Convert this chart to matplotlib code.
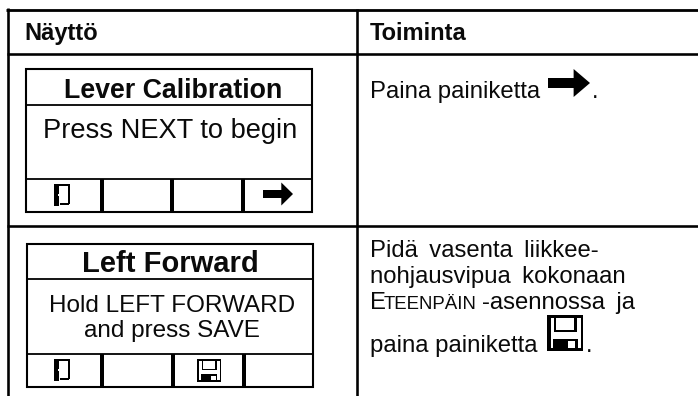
import matplotlib
matplotlib.use("Agg")
import matplotlib.pyplot as plt
from matplotlib.patches import Polygon, Rectangle

header_labels = ["Näyttö", "Toiminta"]
screen_titles = ["Lever Calibration", "Left Forward"]
screen_bodies = [["Press NEXT to begin"], ["Hold LEFT FORWARD", "and press SAVE"]]
action_row1 = "Paina painiketta"
action_row2 = ["Pidä \u2009vasenta \u2009liikkee-", "nohjausvipua \u2009kokonaan"]
action_row2_last = "paina painiketta"

plt.rcParams["font.family"] = ["Liberation Sans", "DejaVu Sans"]
fig = plt.figure(figsize=(6.98, 3.96), dpi=100)
ax = fig.add_axes([0, 0, 1, 1])
ax.set_xlim(0, 698)
ax.set_ylim(396, 0)
ax.axis("off")


def line(x0, y0, x1, y1, lw=2.0):
    ax.plot([x0, x1], [y0, y1], color="black", lw=lw * 0.72, solid_capstyle="butt")


def label(x, y, s, size, weight="normal", ha="left"):
    ax.text(x, y, s, fontsize=size, fontweight=weight, ha=ha, va="baseline", color="#0a0a0a")


def box(x, y, w, h, fc="black"):
    ax.add_patch(Rectangle((x, y), w, h, fc=fc, ec="none"))


def arrow(x, y, w, h, stem):
    head = w * 0.39
    pts = [(x, y - stem / 2), (x + w - head, y - stem / 2), (x + w - head, y - h / 2), (x + w, y),
           (x + w - head, y + h / 2), (x + w - head, y + stem / 2), (x, y + stem / 2)]
    ax.add_patch(Polygon(pts, closed=True, fc="black", ec="none"))


def door(x, y):
    box(x, y, 5, 22)
    box(x + 5, y, 11, 2)
    box(x + 14, y, 2, 20)
    box(x + 6, y + 19, 9, 2)
    box(x + 4, y + 10, 2, 2, "white")


def floppy(x, y, w, h):
    t = h * 0.09
    box(x, y, w, t)
    box(x, y, t * 1.2, h)
    box(x + w - t * 0.7, y, t * 0.7, h)
    box(x, y + h - t, w, t)
    # shutter
    box(x + w * 0.2, y, t * 0.7, h * 0.46)
    box(x + w * 0.76, y, t * 0.7, h * 0.46)
    box(x + w * 0.2, y + h * 0.42, w * 0.6, t * 0.7)
    # label with window
    box(x + w * 0.17, y + h * 0.66, w * 0.68, h * 0.34)
    box(x + w * 0.58, y + h * 0.72, w * 0.2, h * 0.2, "white")


# table frame
line(6, 9.5, 698, 9.5, 2.8)
line(7.8, 8, 7.8, 396, 2.6)
line(356.5, 9, 356.5, 396, 2.6)
line(7, 54, 698, 54, 2.6)
line(7, 226, 698, 226, 2.6)

label(24.5, 40, header_labels[0], 17, "bold")
label(370, 40, header_labels[1], 17, "bold")


def screen(x0, x1, y0, y1, y2, y3, dividers):
    ax.add_patch(Rectangle((x0, y0), x1 - x0, y3 - y0, fc="none", ec="black", lw=1.5))
    line(x0, y1, x1, y1, 1.8)
    line(x0, y2, x1, y2, 1.8)
    for d in dividers:
        line(d, y2, d, y3, 4.0)


# first screen
screen(26, 312, 68.5, 104.5, 179, 212, [101.5, 172, 243])
label(173, 97.5, screen_titles[0], 19.3, "bold", "center")
label(170, 138.5, screen_bodies[0][0], 19.6, "normal", "center")
door(53.5, 184)
arrow(263, 194, 30, 23, 8)

# second screen
screen(27, 313, 243.5, 279, 353.5, 386.5, [102, 172.5, 243.5])
label(170, 272, screen_titles[1], 21, "bold", "center")
label(172, 312, screen_bodies[1][0], 17.5, "normal", "center")
label(171.5, 337, screen_bodies[1][1], 17.5, "normal", "center")
door(54, 359)
floppy(197, 359, 24, 23)

# action column
label(370, 98, action_row1, 17.2)
arrow(548, 83, 42, 28, 10)
label(592, 98, ".", 17.2)
label(370, 257, action_row2[0], 17.2)
label(370, 283, action_row2[1], 17.2)
label(370, 309, "E", 17.2)
label(383.5, 309, "TEENPÄIN", 13.4)
label(482, 309, "-asennossa \u2009ja", 17.2)
label(370, 352, action_row2_last, 17.2)
floppy(547, 315, 36, 36)
label(586, 352, ".", 17.2)

fig.savefig("out.png", dpi=100)
